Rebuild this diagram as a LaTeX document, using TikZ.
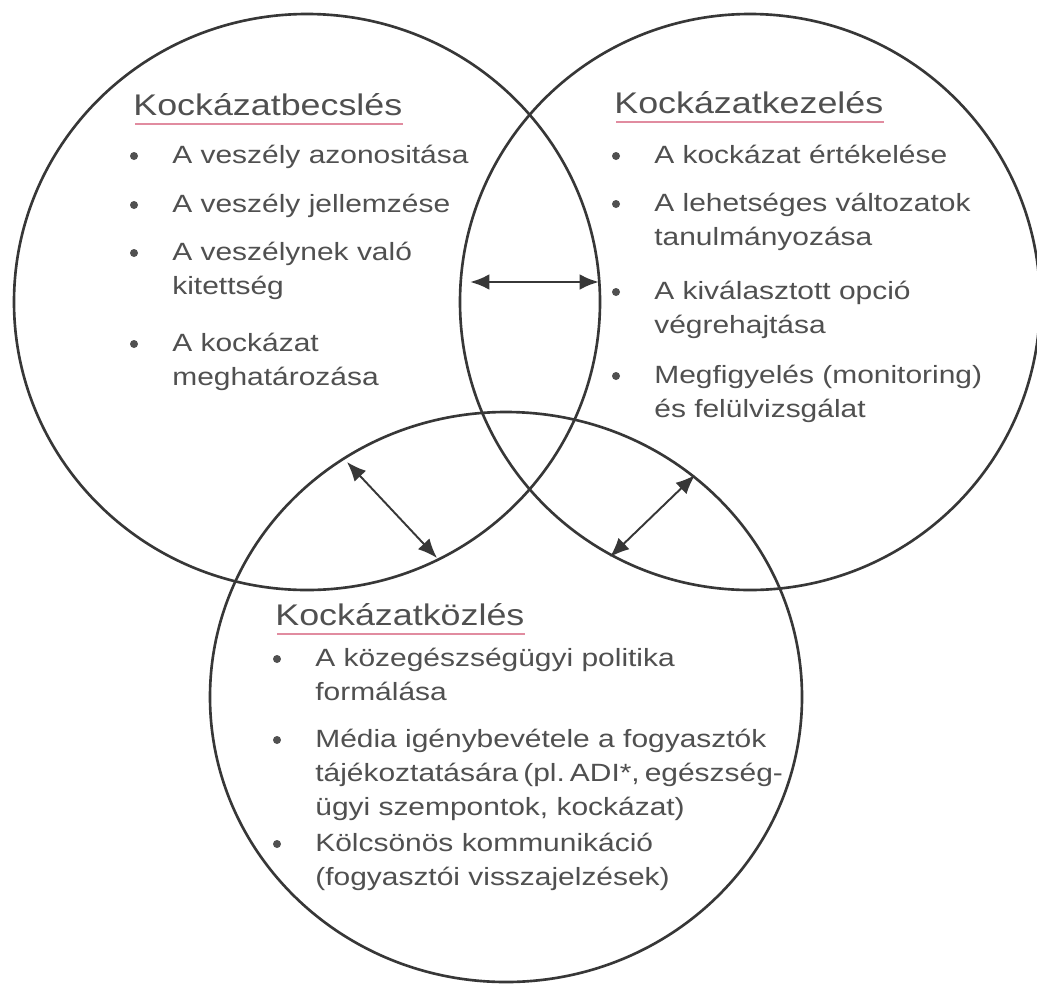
\documentclass[tikz,border=0pt]{standalone}
\usepackage{fontspec}
\setmainfont{Liberation Sans}[FakeStretch=1.2]
\usepackage{xcolor}
\usetikzlibrary{arrows.meta}
\definecolor{mygray}{RGB}{55,55,55}
\definecolor{mytext}{RGB}{80,80,80}
\definecolor{mypink}{RGB}{225,140,160}
\frenchspacing

\begin{document}
\begin{tikzpicture}[x=0.02cm, y=-0.02cm,
  kor/.style={draw=mygray, line width=1.5pt},
  cim/.style={anchor=base west, inner sep=0, text=mytext, font=\fontsize{17}{20}\selectfont},
  tetel/.style={anchor=base west, inner sep=0, text width=10cm, align=left, text=mytext, font=\fontsize{14.2}{19.6}\selectfont},
  pil/.style={draw=mygray, {Latex[length=11pt,width=9pt]}-{Latex[length=11pt,width=9pt]}},
  alahuz/.style={draw=mypink, line width=0.6pt}
]
\fill[white] (0,0) rectangle (1037,984);
\useasboundingbox (0,0) rectangle (1037,984);

% the three circles
\draw[kor] (307,302) ellipse [x radius=293, y radius=288];
\draw[kor] (750,302) ellipse [x radius=290, y radius=288];
\draw[kor] (506,697) ellipse [x radius=296, y radius=285];

% Kockazatbecsles
\node[cim] (becsles) at (133,115) {Kockázatbecslés};
\node[tetel] (b1) at (172,163) {A veszély azonositása};
\node[tetel] (b2) at (172,212) {A veszély jellemzése};
\node[tetel] (b3) at (172,260) {A veszélynek való\\kitettség};
\node[tetel] (b4) at (172,351) {A kockázat\\meghatározása};

% Kockazatkezeles
\node[cim] (kezeles) at (614,113) {Kockázatkezelés};
\node[tetel] (k1) at (654,163) {A kockázat értékelése};
\node[tetel] (k2) at (654,211) {A lehetséges változatok\\tanulmányozása};
\node[tetel] (k3) at (654,299) {A kiválasztott opció\\végrehajtása};
\node[tetel] (k4) at (654,383) {Megfigyelés (monitoring)\\és felülvizsgálat};

% Kockazatkozles
\node[cim] (kozles) at (275,625) {Kockázatközlés};
\node[tetel] (z1) at (315,666) {A közegészségügyi politika\\formálása};
\node[tetel] (z2) at (315,747) {Média igénybevétele a fogyasztók\\{\spaceskip=0.2em\relax tájékoztatására (pl. ADI*, egészség-}\\ügyi szempontok, kockázat)};
\node[tetel] (z3) at (315,851) {Kölcsönös kommunikáció\\(fogyasztói visszajelzések)};

\foreach \n in {b1,b2,b3,b4,k1,k2,k3,k4,z1,z2,z3}
  \fill[mytext] ([shift={(-38,-7)}]\n.base west) circle (4);

\foreach \n in {becsles,kezeles,kozles}
  \draw[alahuz] ([shift={(2,9)}]\n.base west) -- ([shift={(0,9)}]\n.base east);

% arrows between the circles
\coordinate (h1) at (470,282);
\coordinate (h2) at (599,282);
\coordinate (d1) at (347,462);
\coordinate (d2) at (437,558);
\coordinate (d3) at (695,475);
\coordinate (d4) at (610,557);

\draw[pil, line width=1.7pt] (h1) -- (h2);
\draw[pil, line width=1.1pt] (d1) -- (d2);
\draw[pil, line width=1.1pt] (d3) -- (d4);
\end{tikzpicture}
\end{document}
